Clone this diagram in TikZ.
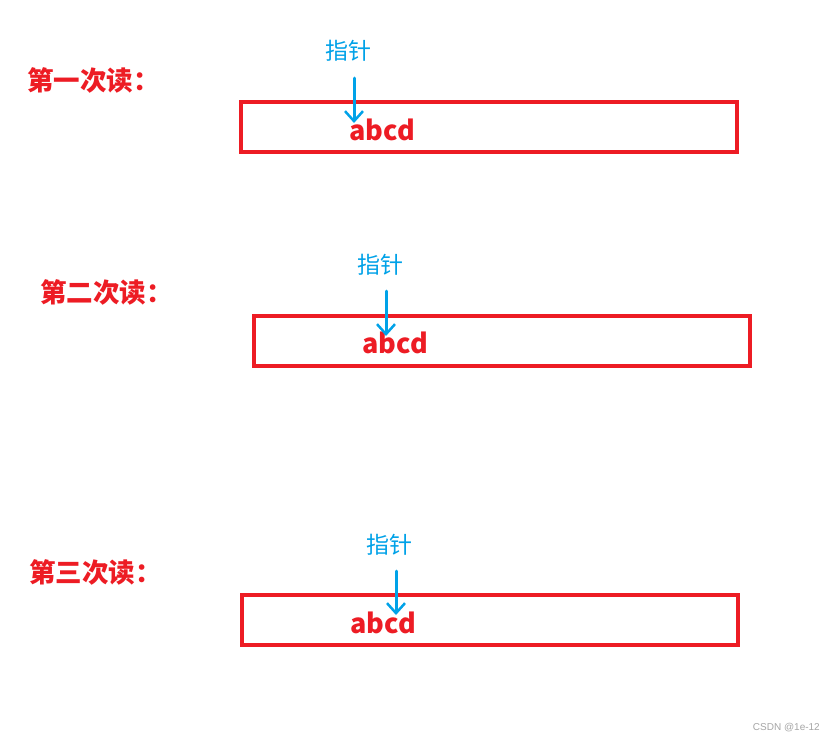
\documentclass[tikz,border=0pt]{standalone}
\usepackage{fontspec}
\newfontfamily\cjk{Noto Sans CJK SC}
\newfontfamily\sans{Liberation Sans}
\usetikzlibrary{arrows.meta}
\definecolor{rd}{HTML}{ED1C24}
\definecolor{bl}{HTML}{00A2E8}
\begin{document}
\begin{tikzpicture}[x=1pt,y=-1pt,
  buf/.style={draw=rd,line width=4pt,minimum width=496pt,minimum height=50pt,inner sep=0pt},
  lbl/.style={text=rd,font=\cjk\bfseries\fontsize{26.5}{26.5}\selectfont,inner sep=0pt},
  ptr/.style={text=bl,font=\cjk\fontsize{23}{23}\selectfont,inner sep=0pt},
  data/.style={text=rd,font=\cjk\bfseries\fontsize{27}{27}\selectfont,inner sep=0pt},
  parrow/.style={draw=bl,line width=3pt,line cap=round,-{Straight Barb[length=10pt,width=18pt,line width=2.5pt]}}]
\useasboundingbox[fill=white] (0,0) rectangle (834,742);
% row 1
\node[lbl,anchor=west] (l1) at (27,80) {第一次读：};
\node[buf] (b1) at (489,127) {};
\node[ptr] (p1) at (348,51) {指针};
\node[data] (d1) at (382,130) {abcd};
\coordinate (s1) at (354,78);
\coordinate (e1) at (354,123);
\draw[parrow] (s1) -- (e1);
% row 2
\node[lbl,anchor=west] (l2) at (40,292) {第二次读：};
\node[buf] (b2) at (502,340.5) {};
\node[ptr] (p2) at (380,265) {指针};
\node[data] (d2) at (395,343) {abcd};
\coordinate (s2) at (386,291);
\coordinate (e2) at (386,336);
\draw[parrow] (s2) -- (e2);
% row 3
\node[lbl,anchor=west] (l3) at (29,572) {第三次读：};
\node[buf] (b3) at (490,620) {};
\node[ptr] (p3) at (389,545) {指针};
\node[data] (d3) at (383,623) {abcd};
\coordinate (s3) at (396,571);
\coordinate (e3) at (396,615);
\draw[parrow] (s3) -- (e3);
\node[text=gray!70,font=\sans\fontsize{10}{10}\selectfont,anchor=east,inner sep=0pt] (w) at (820,728) {CSDN @1e-12};
\end{tikzpicture}
\end{document}
